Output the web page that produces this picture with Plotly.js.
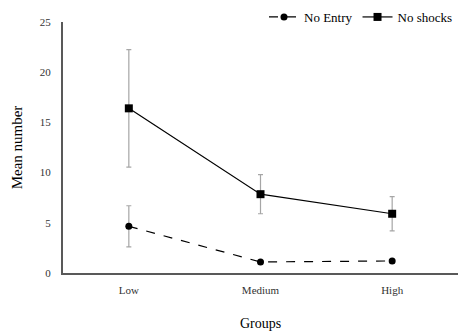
<!DOCTYPE html>
<html><head><meta charset="utf-8">
<script src="https://cdn.plot.ly/plotly-3.0.1.min.js"></script>
<style>body{margin:0;padding:0;background:#fff}#chart{width:460px;height:331px}</style>
</head><body><div id="chart"></div>
<script>
const groups = ["Low", "Medium", "High"];
const noEntry = [4.65, 1.1, 1.2];
const noEntryErr = [2.05, 0, 0];
const noShocks = [16.4, 7.85, 5.9];
const noShocksErr = [5.85, 1.95, 1.7];

const traces = [
  {x: groups, y: noEntry, name: "No Entry", type: "scatter", mode: "lines+markers",
   line: {color: "#000", width: 1.2, dash: "dash"},
   marker: {symbol: "circle", size: 7, color: "#000"},
   error_y: {type: "data", array: noEntryErr, visible: true, color: "#a6a6a6", thickness: 1.2, width: 2.5}},
  {x: groups, y: noShocks, name: "No shocks", type: "scatter", mode: "lines+markers",
   line: {color: "#000", width: 1.2},
   marker: {symbol: "square", size: 8, color: "#000"},
   error_y: {type: "data", array: noShocksErr, visible: true, color: "#a6a6a6", thickness: 1.2, width: 2.5}}
];
const layout = {
  width: 460, height: 331,
  margin: {l: 63, r: 2, t: 18, b: 58},
  paper_bgcolor: "#fff", plot_bgcolor: "#fff",
  font: {family: "Liberation Serif, Times New Roman, serif", color: "#333", size: 11},
  showlegend: true,
  legend: {orientation: "h", x: 1, xanchor: "right", y: 1.02, yanchor: "middle",
           font: {size: 13, color: "#000"}, bgcolor: "rgba(0,0,0,0)", traceorder: "normal"},
  xaxis: {type: "category", range: [-0.5, 2.5], showgrid: false, zeroline: false,
          showline: true, linecolor: "#595959", linewidth: 2,
          ticks: "outside", ticklen: 6, tickcolor: "rgba(0,0,0,0)",
          title: {text: "Groups", font: {size: 14, color: "#000"}, standoff: 23},
          automargin: false},
  yaxis: {range: [0, 25], dtick: 5, showgrid: false, zeroline: false,
          showline: true, linecolor: "#595959", linewidth: 2,
          ticks: "outside", ticklen: 8, tickcolor: "rgba(0,0,0,0)",
          title: {text: "Mean number", font: {size: 15, color: "#000"}, standoff: 14},
          automargin: false}
};
Plotly.newPlot("chart", traces, layout, {displayModeBar: false, staticPlot: true});
</script></body></html>
